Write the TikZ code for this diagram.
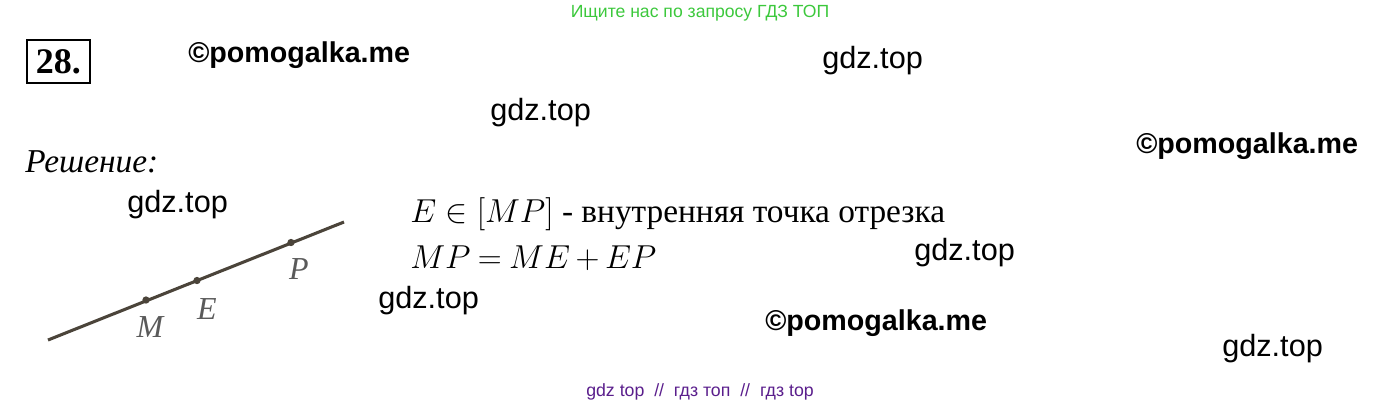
\documentclass[tikz,border=0pt]{standalone}
\usepackage{fontspec}
\setmainfont{Liberation Serif}
\newfontfamily\wmfont{Liberation Sans}
\definecolor{wmgreen}{RGB}{60,200,60}
\definecolor{wmpurple}{RGB}{90,30,140}
\definecolor{lineclr}{RGB}{75,68,58}
\definecolor{lblclr}{RGB}{90,90,90}
\begin{document}
\begin{tikzpicture}[x=0.75pt,y=-0.75pt,
  wm/.style={inner sep=0pt,anchor=base west,font=\wmfont\fontsize{23}{27}\selectfont},
  pm/.style={inner sep=0pt,anchor=base west,font=\wmfont\bfseries\fontsize{21.5}{26}\selectfont},
  body/.style={inner sep=0pt,anchor=base west,font=\fontsize{25}{30}\selectfont},
  lbl/.style={inner sep=0pt,text=lblclr,font=\itshape\fontsize{24}{28}\selectfont},
  dotp/.style={circle,fill=lineclr,inner sep=0pt,minimum size=5.5pt}]
\useasboundingbox (0,0) rectangle (1400,405);
% header
\node[inner sep=0pt,anchor=base,text=wmgreen,font=\wmfont\fontsize{13.2}{15}\selectfont] (hdr) at (700,17) {Ищите нас по запросу ГДЗ ТОП};
\node[inner sep=0pt,anchor=base,text=wmpurple,font=\wmfont\fontsize{13.3}{15}\selectfont] (ftr) at (700,396) {gdz top\ \ //\ \ гдз топ\ \ //\ \ гдз top};
% task number
\node[draw,line width=2pt,minimum width=63*0.75pt,minimum height=43*0.75pt,inner sep=0pt,font=\bfseries\fontsize{27}{30}\selectfont] (num) at (58.5,61.5) {28.};
% watermarks
\node[wm] (g1) at (822,68) {gdz.top};
\node[wm] (g2) at (490,120) {gdz.top};
\node[wm] (g3) at (127,212) {gdz.top};
\node[wm] (g4) at (914,260) {gdz.top};
\node[wm] (g5) at (378,308) {gdz.top};
\node[wm] (g6) at (1222,356) {gdz.top};
\node[pm] (p1) at (188,62) {©pomogalka.me};
\node[pm] (p2) at (1136,153) {©pomogalka.me};
\node[pm] (p3) at (765,330) {©pomogalka.me};
% solution
\node[inner sep=0pt,anchor=base west,font=\itshape\fontsize{25}{30}\selectfont] (sol) at (25,172) {Решение:};
\node[body] (l1) at (410,222) {$E\in[MP]$ - внутренняя точка отрезка};
\node[body] (l2) at (410,268) {\thickmuskip=4mu\medmuskip=3mu$MP=ME+EP$};
% figure
\coordinate (A) at (48,340);
\coordinate (B) at (344,222);
\draw[lineclr,line width=2.3pt] (A) -- (B);
\node[dotp] (M) at (146,300) {};
\node[dotp] (E) at (197,280.5) {};
\node[dotp] (P) at (291,242.5) {};
\node[lbl] (lM) at (150,327) {M};
\node[lbl] (lE) at (207,309) {E};
\node[lbl] (lP) at (299,269) {P};
\end{tikzpicture}
\end{document}
